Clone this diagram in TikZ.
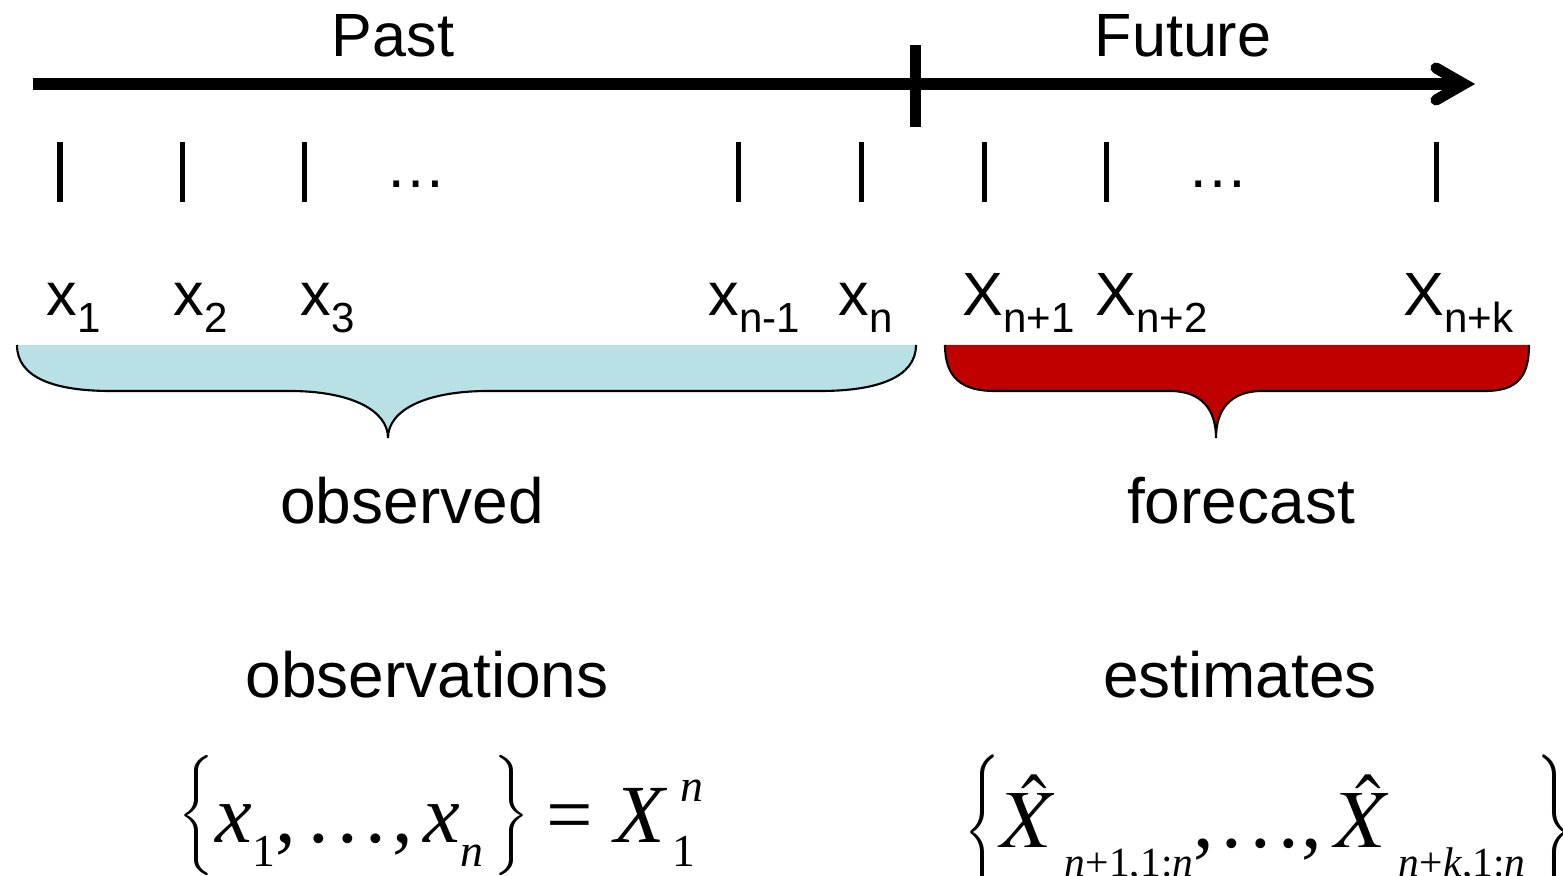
\documentclass[tikz,border=0pt]{standalone}
\usepackage{mathptmx}
\usepackage{graphicx}
\usepackage[no-math]{fontspec}
\newfontfamily\arial{Liberation Sans}
\newfontfamily\tnr{Liberation Serif}
\definecolor{obsblue}{RGB}{185,224,228}
\definecolor{fcred}{RGB}{192,0,0}
\newcommand{\lbl}[2]{#1\raisebox{-0.16cm}{\fontsize{11.96}{14}\selectfont #2}}
\newcommand{\sbs}[1]{\raisebox{-0.24cm}{\fontsize{13}{15}\selectfont #1}}
\newcommand{\sbsB}[1]{\raisebox{-0.29cm}{\fontsize{11.8}{14}\selectfont #1}}
% #1 delimiter, #2 width, #3 total height, #4 shift of centre above math axis
\newcommand{\brc}[4]{\raisebox{#4}{$\vcenter{\hbox{\resizebox*{#2}{#3}{$\bigg#1$}}}$}}
\newcommand{\dotz}{.\hspace{0.075cm}.\hspace{0.075cm}.}
\begin{document}
\begin{tikzpicture}[x=0.01cm,y=-0.01cm,
 txt/.style={font=\arial\fontsize{17.37}{20}\selectfont, inner sep=0pt},
 bigtxt/.style={font=\arial\fontsize{18.2}{21}\selectfont, inner sep=0pt, anchor=base},
 lab/.style={txt, anchor=base west},
 axisline/.style={line width=0.11cm},
 tickline/.style={line width=0.05cm},
 braceline/.style={draw=black, line width=0.6pt},
 mth/.style={font=\tnr\fontsize{23.5}{28}\selectfont, inner sep=0pt, anchor=base west}]
\useasboundingbox (0,0) rectangle (1563,876);

% braces
\fill[obsblue] (17,345) .. controls (17,378) and (55,391) .. (111,391) -- (290,391)
  .. controls (350,391) and (388,410) .. (388,438)
  .. controls (388,410) and (426,391) .. (488,391) -- (820,391)
  .. controls (876,391) and (916,378) .. (916,345) -- cycle;
\draw[braceline] (17,345) .. controls (17,378) and (55,391) .. (111,391) -- (290,391)
  .. controls (350,391) and (388,410) .. (388,438)
  .. controls (388,410) and (426,391) .. (488,391) -- (820,391)
  .. controls (876,391) and (916,378) .. (916,345);
\fill[fcred] (945,345) .. controls (945,378) and (962,391) .. (995,391) -- (1170,391)
  .. controls (1202,391) and (1216,410) .. (1216,438)
  .. controls (1216,410) and (1230,391) .. (1262,391) -- (1485,391)
  .. controls (1516,391) and (1529,378) .. (1529,345) -- cycle;
\draw[braceline] (945,345) .. controls (945,378) and (962,391) .. (995,391) -- (1170,391)
  .. controls (1202,391) and (1216,410) .. (1216,438)
  .. controls (1216,410) and (1230,391) .. (1262,391) -- (1485,391)
  .. controls (1516,391) and (1529,378) .. (1529,345);

% time axis
\coordinate (start) at (33,84);
\coordinate (tip) at (1464,84);
\coordinate (armA) at (1436,68);
\coordinate (armB) at (1436,100);
\draw[axisline] (start) -- (tip);
\draw[axisline, line cap=round, line join=miter] (armA) -- (tip) -- (armB);
\coordinate (divT) at (915.5,45);
\coordinate (divB) at (915.5,127);
\draw[axisline] (divT) -- (divB);

% ticks
\foreach \t in {60,182,304,738,861,984,1106,1436}
  \draw[tickline] (\t,142) -- (\t,202);

% texts
\node[txt, anchor=base] (past) at (393,57) {Past};
\node[txt, anchor=base] (future) at (1183,57) {Future};
\node[txt, anchor=base] (dotsA) at (416,188) {…};
\node[txt, anchor=base] (dotsB) at (1218,188) {…};

\node[lab] (x1) at (46,316) {\lbl{x}{1}};
\node[lab] (x2) at (173,316) {\lbl{x}{2}};
\node[lab] (x3) at (300,316) {\lbl{x}{3}};
\node[lab] (xnm) at (708,316) {\lbl{x}{n-1}};
\node[lab] (xn) at (838,316) {\lbl{x}{n}};
\node[lab] (Xn1) at (962,316) {\lbl{X}{n+1}};
\node[lab] (Xn2) at (1095,316) {\lbl{X}{n+2}};
\node[lab] (Xnk) at (1403,316) {\lbl{X}{n+k}};

\node[bigtxt] (obs) at (412,523) {observed};
\node[bigtxt] (fc) at (1241,523) {forecast};
\node[bigtxt] (obsn) at (427,697) {observations};
\node[bigtxt] (est) at (1240,697) {estimates};

\node[mth] (eqA) at (178,842) {\brc{\{}{0.36cm}{1.2cm}{0.06cm}\hspace{0.01cm}\textit{x}\sbs{1},\hspace{0.13cm}\dotz\hspace{0.07cm},\hspace{0.1cm}\textit{x}\sbs{\itshape n}\hspace{0.1cm}\brc{\}}{0.36cm}{1.2cm}{0.06cm}\hspace{0.17cm}=\hspace{0.22cm}\textit{X}\hspace{0.05cm}\rlap{\hspace{0.08cm}\raisebox{0.4cm}{\fontsize{13}{15}\selectfont\itshape n}}\sbs{1}};
\node[mth] (eqB) at (964,847) {\brc{\{}{0.36cm}{1.55cm}{-0.06cm}\hspace{0.0cm}$\hat{X}$\hspace{0.06cm}\sbsB{\itshape n\/\upshape+1,1:\itshape n},\hspace{0.08cm}\dotz\hspace{0.03cm},\hspace{0.12cm}$\hat{X}$\hspace{0.06cm}\sbsB{\itshape n\/\upshape+\itshape k\/\upshape,1:\itshape n}\hspace{0.11cm}\brc{\}}{0.36cm}{1.55cm}{-0.06cm}};
\end{tikzpicture}
\end{document}
